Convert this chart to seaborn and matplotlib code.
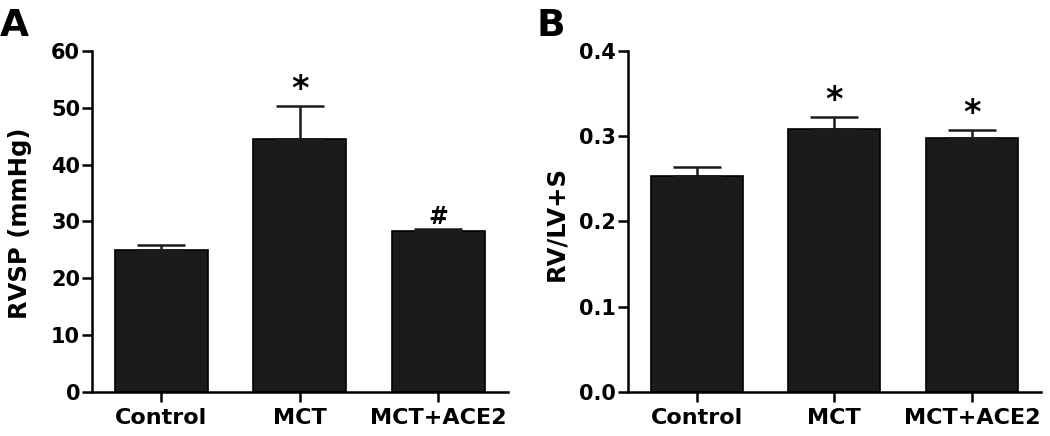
import matplotlib
matplotlib.use('Agg')
import matplotlib.pyplot as plt
import seaborn as sns
import pandas as pd

# data (mean and upper SEM)
groups = ['Control', 'MCT', 'MCT+ACE2']
rvsp_mean = [24.9, 44.6, 28.3]
rvsp_sem = [1.0, 5.7, 0.3]
rvsp_marks = ['', '*', '#']
ratio_mean = [0.253, 0.308, 0.2975]
ratio_sem = [0.0115, 0.015, 0.010]
ratio_marks = ['', '*', '*']

sns.set_style('ticks')
plt.rcParams['font.family'] = ['DejaVu Sans']
plt.rcParams['font.weight'] = 'bold'
plt.rcParams['text.color'] = 'black'
plt.rcParams['axes.labelcolor'] = 'black'
plt.rcParams['xtick.color'] = 'black'
plt.rcParams['ytick.color'] = 'black'
plt.rcParams['axes.edgecolor'] = 'black'

fig = plt.figure(figsize=(10.5, 4.36), dpi=100)
ax_a = fig.add_axes([0.0876, 0.101, 0.396, 0.782])
ax_b = fig.add_axes([0.598, 0.101, 0.393, 0.782])

# size and offset (points above the error bar) of the significance marks
mark_style = {'*': (24, 5), '#': (17, 4)}


def draw_panel(ax, means, sems, marks, ylim, yticks, ylabel, fmt):
    df = pd.DataFrame({'group': groups, 'value': means})
    sns.barplot(data=df, x='group', y='value', ax=ax, color='#1b1b1b',
                edgecolor='black', linewidth=1.2, width=0.67, saturation=1)
    centers = [p.get_x() + p.get_width() / 2 for p in ax.patches]
    ax.errorbar(centers, means, yerr=[[0] * len(sems), sems], fmt='none',
                ecolor='#1b1b1b', elinewidth=1.8, capsize=17, capthick=1.8)
    for x, m, s, t in zip(centers, means, sems, marks):
        if t:
            size, pad = mark_style[t]
            ax.annotate(t, (x, m + s), xytext=(0, pad), textcoords='offset points',
                        ha='center', va='baseline', fontsize=size, fontweight='bold')
    ax.set_ylim(*ylim)
    ax.set_xlim(-0.5, 2.5)
    ax.set_yticks(yticks)
    ax.set_yticklabels([fmt.format(v) for v in yticks])
    ax.set_xlabel('')
    ax.set_ylabel(ylabel, fontsize=17.5, fontweight='bold')
    ax.yaxis.set_label_coords(-0.145, 0.495)
    ax.tick_params(axis='both', width=1.8, length=7.5, direction='out')
    ax.tick_params(axis='y', labelsize=15, pad=1)
    ax.tick_params(axis='x', labelsize=16, pad=4)
    for lab in ax.get_xticklabels() + ax.get_yticklabels():
        lab.set_fontweight('bold')
    for side in ['top', 'right']:
        ax.spines[side].set_visible(False)
    for side in ['left', 'bottom']:
        ax.spines[side].set_linewidth(1.8)


draw_panel(ax_a, rvsp_mean, rvsp_sem, rvsp_marks, (0, 60), [0, 10, 20, 30, 40, 50, 60],
           'RVSP (mmHg)', '{:.0f}')
draw_panel(ax_b, ratio_mean, ratio_sem, ratio_marks, (0, 0.4), [0.0, 0.1, 0.2, 0.3, 0.4],
           'RV/LV+S', '{:.1f}')

fig.text(0.0, 0.982, 'A', fontsize=27, fontweight='bold', va='top', ha='left')
fig.text(0.511, 0.982, 'B', fontsize=27, fontweight='bold', va='top', ha='left')

fig.savefig('out.png', dpi=100)
